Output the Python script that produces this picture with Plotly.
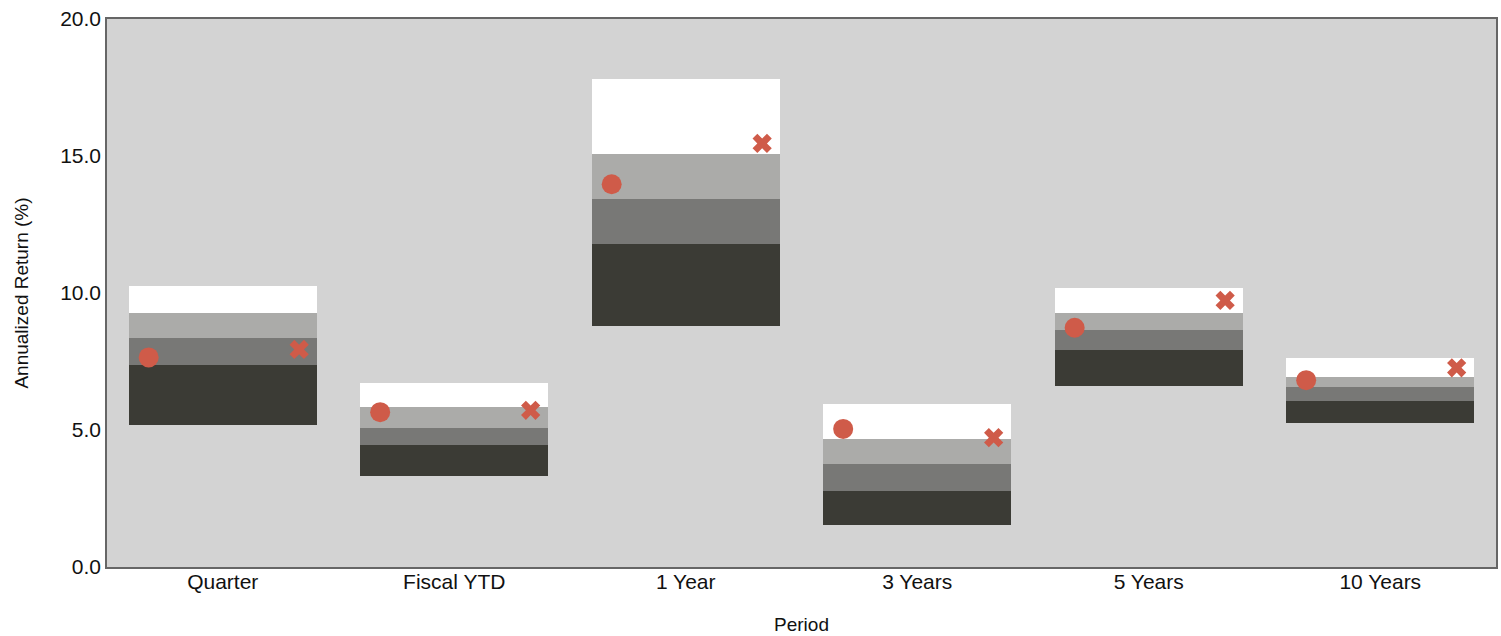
import plotly.graph_objects as go

categories = ["Quarter", "Fiscal YTD", "1 Year", "3 Years", "5 Years", "10 Years"]
low = [5.17, 3.31, 8.80, 1.52, 6.59, 5.27]
q25 = [7.37, 4.45, 11.80, 2.79, 7.91, 6.05]
q50 = [8.34, 5.07, 13.43, 3.76, 8.66, 6.56]
q75 = [9.28, 5.84, 15.06, 4.66, 9.27, 6.95]
high = [10.26, 6.73, 17.82, 5.94, 10.18, 7.62]
portfolio = [7.65, 5.65, 13.97, 5.04, 8.73, 6.82]
benchmark = [7.94, 5.72, 15.46, 4.72, 9.73, 7.27]
y_ticks = [0, 5, 10, 15, 20]

seg_colors = ["#3b3b35", "#787876", "#ababa9", "#ffffff"]
bounds = [low, q25, q50, q75, high]
xpos = list(range(len(categories)))

fig = go.Figure()
for i in range(4):
    lo = bounds[i]
    hi = bounds[i + 1]
    fig.add_trace(go.Bar(
        x=xpos,
        y=[h - l for h, l in zip(hi, lo)],
        base=lo,
        width=0.81,
        marker=dict(color=seg_colors[i], line=dict(width=0)),
        showlegend=False,
        hoverinfo="skip",
    ))

marker_color = "#cf5b49"
fig.add_trace(go.Scatter(
    x=[p - 0.32 for p in xpos], y=portfolio, mode="markers",
    marker=dict(symbol="circle", size=20, color=marker_color, line=dict(width=0)),
    showlegend=False,
))
fig.add_trace(go.Scatter(
    x=[p + 0.33 for p in xpos], y=benchmark, mode="markers",
    marker=dict(symbol="x", size=17, color=marker_color, line=dict(width=0)),
    showlegend=False,
))

tick_font = dict(family="Liberation Sans Narrow, Arial Narrow, Liberation Sans, Arial, sans-serif", size=21, color="#111111")
title_font = dict(family="Liberation Sans, Arial, sans-serif", size=19, color="#111111")

fig.update_layout(
    width=1501, height=636,
    margin=dict(l=107, r=5, t=19, b=69),
    paper_bgcolor="#ffffff",
    plot_bgcolor="#d3d3d3",
    barmode="overlay",
    bargap=0,
)
fig.update_xaxes(
    range=[-0.5, 5.5], automargin=False,
    tickmode="array", tickvals=xpos, ticktext=categories,
    tickfont=tick_font, ticklabelstandoff=-5,
    showgrid=False, zeroline=False,
    showline=True, linecolor="#666666", linewidth=1.5, mirror=True,
    ticks="",
    title=dict(text="Period", font=title_font, standoff=26),
)
fig.update_yaxes(
    range=[0, 20], automargin=False,
    tickmode="array", tickvals=y_ticks, ticktext=[f"{v:.1f}" for v in y_ticks],
    tickfont=tick_font,
    showgrid=False, zeroline=False,
    showline=True, linecolor="#666666", linewidth=1.5, mirror=True,
    ticks="",
    title=dict(text="Annualized Return (%)", font=title_font, standoff=27),
)

fig.write_html("out.html")
